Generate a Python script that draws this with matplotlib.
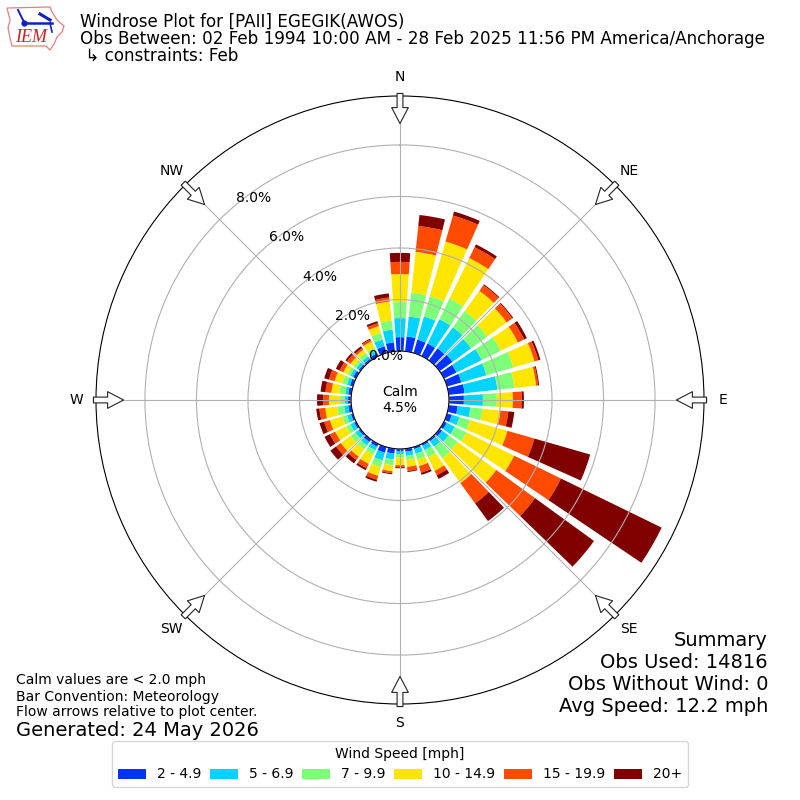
import numpy as np
import matplotlib
matplotlib.use("Agg")
import matplotlib.pyplot as plt
from matplotlib.patches import Polygon

directions = list(range(0, 360, 10))
compass_labels = ["N", "NE", "E", "SE", "S", "SW", "W", "NW"]
compass_angles = [0, 45, 90, 135, 180, 225, 270, 315]
bin_labels = ["2 - 4.9", "5 - 6.9", "7 - 9.9", "10 - 14.9", "15 - 19.9", "20+"]
bin_colors = ["#0033ff", "#00d4ff", "#7dff7a", "#ffe600", "#ff4a00", "#800000"]
r_ticks = [0, 2, 4, 6, 8]

s_2_5 = [.54,.58,.54,.54,.58,.62,.54,.58,.62,.58,.35,.19,.12,.12,.08,.08,.08,.12,
         .08,.19,.23,.12,.12,.08,.08,.08,.12,.12,.12,.12,.12,.08,.08,.12,.27,.35]
s_5_7 = [.74,.78,.93,1.05,1.01,.89,1.09,1.01,1.28,.74,.50,.31,.35,.31,.27,.19,.19,.16,
         .12,.23,.31,.16,.16,.16,.16,.16,.16,.12,.12,.12,.12,.12,.12,.12,.27,.50]
s_7_10 = [.62,.93,.82,.89,.78,.78,.82,1.09,.66,.54,.47,.43,.50,.43,.54,.31,.23,.16,
          .12,.23,.27,.19,.19,.23,.19,.19,.27,.19,.23,.19,.12,.12,.16,.12,.27,.35]
s_10_15 = [1.09,1.59,2.21,1.75,.97,.93,.74,.85,.85,.62,.70,1.51,2.06,1.86,1.20,.58,.27,.27,
           .31,.23,.35,.39,.35,.47,.47,.50,.47,.43,.31,.31,.19,.16,.16,.27,.27,.74]
s_15_20 = [.47,1.01,1.05,.47,.27,.27,.27,.16,.08,.35,.31,1.09,2.02,1.86,.97,.19,.27,.16,
           .08,.08,.16,.19,.16,.23,.23,.23,.23,.23,.23,.23,.16,.16,.08,.08,.12,.16]
s_20p = [.35,.43,.16,.12,.04,.04,.12,.08,.04,.08,.23,2.25,4.35,2.83,.85,.16,.08,.04,
         .04,.04,.08,.08,.16,.27,.23,.19,.12,.23,.19,.19,.16,.08,.08,.04,.08,.16]
series = [s_2_5, s_5_7, s_7_10, s_10_15, s_15_20, s_20p]

calm_pct = 4.5
r_max = 9.9
r_origin = -1.9

title_lines = ["Windrose Plot for [PAII] EGEGIK(AWOS)",
               "Obs Between: 02 Feb 1994 10:00 AM - 28 Feb 2025 11:56 PM America/Anchorage",
               " \u21b3 constraints: Feb"]
left_notes = ["Calm values are < 2.0 mph", "Bar Convention: Meteorology",
              "Flow arrows relative to plot center."]
generated = "Generated: 24 May 2026"
summary = ["Summary", "Obs Used: 14816", "Obs Without Wind: 0", "Avg Speed: 12.2 mph"]

fig = plt.figure(figsize=(8, 8), dpi=100)
ax = fig.add_axes([0.12, 0.12, 0.76, 0.76], projection="polar")
ax.set_theta_zero_location("N")
ax.set_theta_direction(-1)

theta = np.deg2rad(directions)
width = np.deg2rad(8.0)
base = np.zeros(len(directions))
handles = []
for vals, col, lab in zip(series, bin_colors, bin_labels):
    v = np.array(vals)
    b = ax.bar(theta, v, width=width, bottom=base, color=col, linewidth=0, label=lab)
    handles.append(b)
    base = base + v

ax.set_rlim(0, r_max)
ax.set_rorigin(r_origin)
ax.set_yticks(r_ticks)
ax.set_yticklabels([f"{t:.1f}%" for t in r_ticks], fontsize=10)
ax.set_rlabel_position(-40)
ax.set_xticks(np.deg2rad(compass_angles))
ax.set_xticklabels(compass_labels, fontsize=10)
ax.grid(True, color="#b0b0b0", linewidth=0.8)

for a in compass_angles:
    t = np.deg2rad(a)
    ax.annotate("", xy=(t, 8.83), xytext=(t, 10.0), xycoords="data", textcoords="data",
                arrowprops=dict(facecolor="white", edgecolor="#222222", linewidth=0.8,
                                width=4.2, headwidth=12, headlength=11.5, shrink=0),
                zorder=6, annotation_clip=False)

ax.text(0.5, 0.5, f"Calm\n{calm_pct}%", transform=ax.transAxes, ha="center", va="center",
        fontsize=10, zorder=7)


def ypx(y):
    return 1 - y / 800


for s, y in zip(title_lines, [22, 39, 56]):
    fig.text(80 / 800, ypx(y), s, fontsize=12.03, va="center", ha="left")
for s, y in zip(left_notes, [680, 697, 712]):
    fig.text(16 / 800, ypx(y), s, fontsize=10, va="center", ha="left")
fig.text(16 / 800, ypx(730), generated, fontsize=14, va="center", ha="left")
for s, y in zip(summary, [640, 662, 684, 706]):
    fig.text(768 / 800, ypx(y), s, fontsize=14, va="center", ha="right")

leg = fig.legend(handles=handles, labels=bin_labels, title="Wind Speed [mph]", ncol=6,
                 loc="lower center", bbox_to_anchor=(0.5, 0.0075), fontsize=10, title_fontsize=10,
                 columnspacing=0.63)

# IEM logo drawn as simple shapes
logo = fig.add_axes([0, 0.935, 0.085, 0.065])
logo.set_xlim(0, 68)
logo.set_ylim(52, 0)
logo.axis("off")
outline = [(7,8),(50,7),(52,12),(57,20),(64,26),(62,32),(57,37),(54,44),(50,50),(46,46),(12,46),(10,38),(8,28),(10,20)]
logo.add_patch(Polygon(outline, closed=True, fill=False, edgecolor="#e08080", linewidth=0.9))
logo.plot([24, 52], [23, 23], color="#1020c0", linewidth=1.8)
logo.plot([18, 24], [10, 22], color="#1020c0", linewidth=1.4)
logo.plot([40, 50], [14, 20], color="#1020c0", linewidth=2.2)
logo.plot([50, 52], [23, 32], color="#1020c0", linewidth=1.2)
logo.plot([24], [23], "o", color="#1020c0", markersize=3.5)
logo.text(15, 38, "IEM", color="#d02020", fontsize=13, style="italic", family="Liberation Serif",
          ha="left", va="center")

fig.savefig("out.png", dpi=100)
